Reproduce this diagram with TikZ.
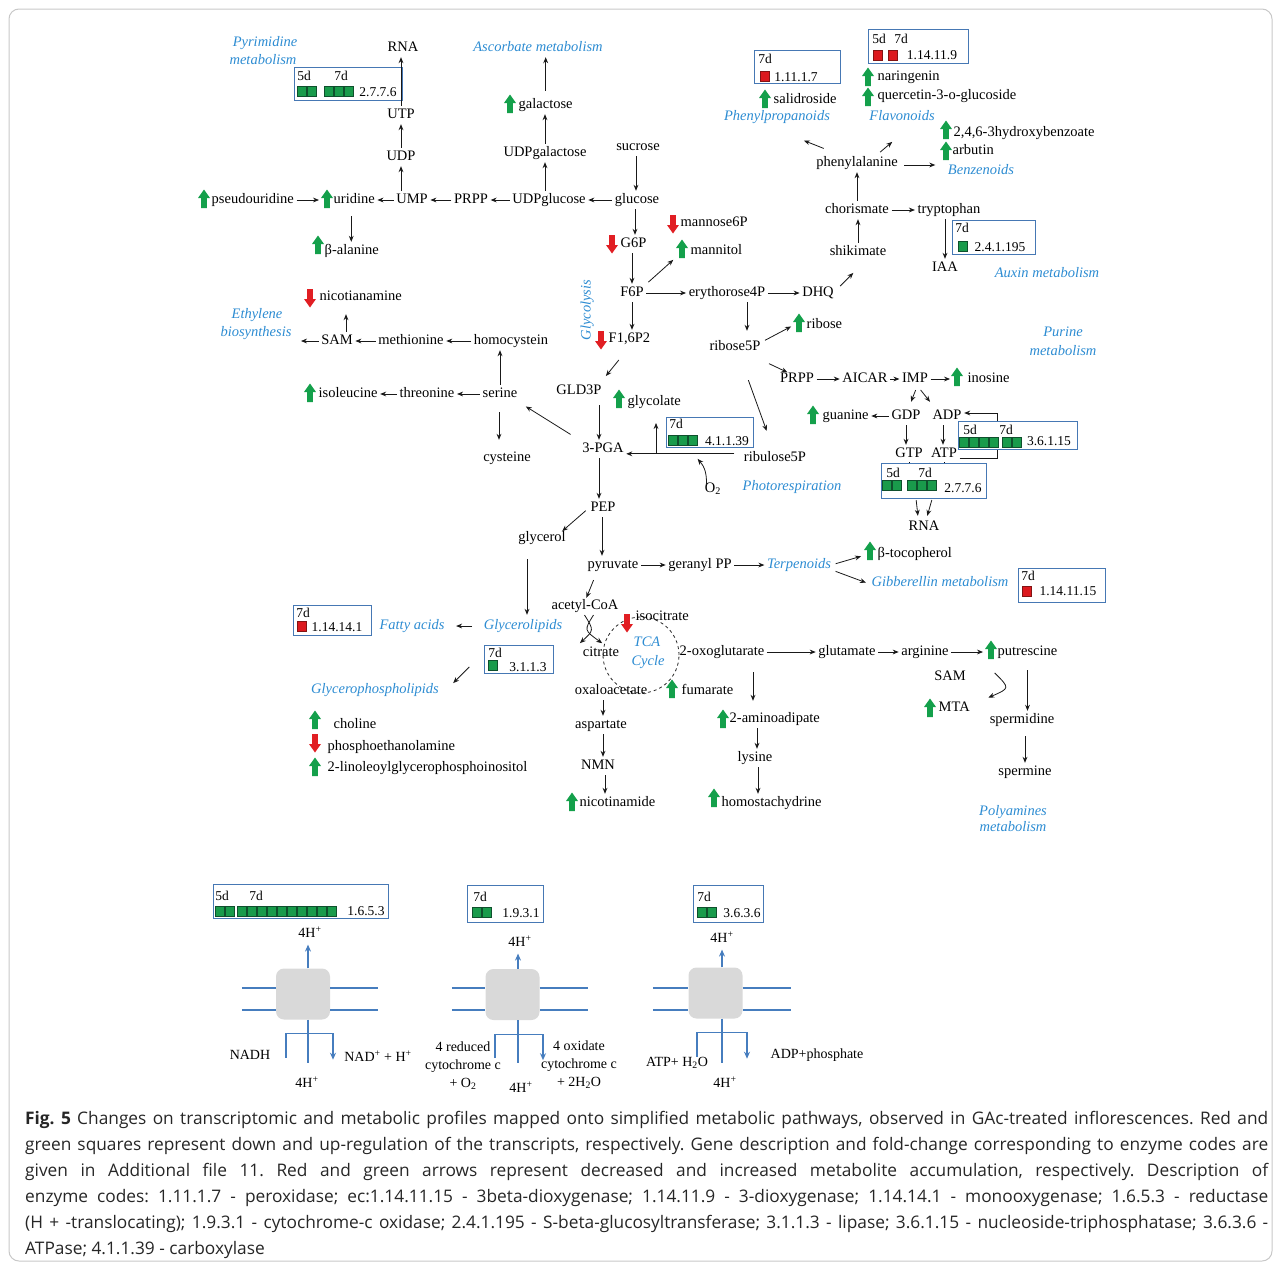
\documentclass[tikz,border=0pt]{standalone}
\usepackage{fontspec}
\setmainfont{Liberation Serif}
\newfontfamily\capfont{Open Sans}
\usetikzlibrary{arrows.meta,calc}
\definecolor{pwblue}{RGB}{45,140,210}
\definecolor{boxblue}{RGB}{70,120,180}
\definecolor{mgreen}{RGB}{20,160,75}
\definecolor{mred}{RGB}{225,30,35}
\definecolor{sqgreen}{RGB}{25,155,75}
\definecolor{sqedge}{RGB}{15,80,45}
\definecolor{sqred}{RGB}{220,25,30}
\definecolor{sqrededge}{RGB}{130,20,20}
\definecolor{memblue}{RGB}{70,125,190}
\definecolor{grayblk}{RGB}{217,217,217}
\definecolor{framegray}{RGB}{200,200,200}
\newcommand\sqrow[5]{\foreach \ii in {1,...,#3}{\filldraw[fill=#4,draw=#5,line width=0.6pt] ({#1+(\ii-1)*10},#2) rectangle ++(9.6,10);}}
\tikzset{
 gup/.pic={\fill[mgreen] (-2.8,9) -- (-2.8,-1) -- (-6,-1) -- (0,-9.5) -- (6,-1) -- (2.8,-1) -- (2.8,9) -- cycle;},
 rdn/.pic={\fill[mred] (-2.8,-9) -- (-2.8,1) -- (-6,1) -- (0,9.5) -- (6,1) -- (2.8,1) -- (2.8,-9) -- cycle;}
}
\begin{document}
\begin{tikzpicture}[x=1pt,y=-1pt,
 met/.style={font=\fontsize{14.5}{16}\selectfont, inner sep=1.5pt, text height=10pt, text depth=3pt, text=black},
 pw/.style={met, font=\fontsize{14.5}{16}\selectfont\itshape, text=pwblue},
 sm/.style={font=\fontsize{13.5}{15}\selectfont, inner sep=0pt},
 arr/.style={draw=black!90, line width=0.8pt, -{Stealth[length=6pt,width=4.8pt]}, shorten >=1pt, shorten <=1pt},
 ebox/.style={draw=boxblue, line width=1.1pt, fill=white, inner sep=0pt, anchor=north west},
 mem/.style={draw=memblue, line width=1.2pt},
 marr/.style={mem, -{Stealth[length=7pt,width=6pt]}},
 blk/.style={fill=grayblk, rounded corners=8pt, minimum width=54pt, minimum height=51pt, inner sep=0pt},
 lt/.style={font=\fontsize{14}{18}\selectfont, inner sep=1pt, align=center}
]
\useasboundingbox (0,0) rectangle (1281,1269);
\draw[framegray, line width=1pt, rounded corners=10pt] (9,9) rectangle (1272,1261);

% ---------------- Pyrimidine
\node[pw] (pyr1) at (265,43) {Pyrimidine};
\node[pw] (pyr2) at (263,61) {metabolism};
\node[met] (rna1) at (403,48) {RNA};
\node[ebox, minimum width=108pt, minimum height=33pt] (bxA) at (294,67) {};
\node[sm] (bxA5) at (304,76) {5d};
\node[sm] (bxA7) at (341,76) {7d};
\sqrow{297}{86}{2}{sqgreen}{sqedge}
\sqrow{324}{86}{3}{sqgreen}{sqedge}
\node[sm] (bxAc) at (378,92) {2.7.7.6};
\node[met] (utp) at (401,115) {UTP};
\node[met] (udp) at (401,157) {UDP};
\draw[arr] (utp.north) -- (utp.north |- rna1.south);
\draw[arr] (udp) -- (utp);
\node[met] (ump) at (412,200) {UMP};
\draw[arr] (udp.south |- ump.north) -- (udp.south);
\pic at (204,199) {gup};
\node[met, anchor=west] (pseudo) at (210,200) {pseudouridine};
\pic at (327,199) {gup};
\node[met, anchor=west] (uridine) at (332,200) {uridine};
\node[met] (prpp1) at (471,200) {PRPP};
\node[met] (udpglc) at (549,200) {UDPglucose};
\node[met] (glucose) at (637,200) {glucose};
\draw[arr] (pseudo.east) -- ($(uridine.west)+(-12,0)$);
\draw[arr] (ump) -- (uridine);
\draw[arr] (prpp1) -- (ump);
\draw[arr] (udpglc) -- (prpp1);
\draw[arr] (glucose) -- (udpglc);
\pic at (318,245) {gup};
\node[met, anchor=west] (balanine) at (323,251) {β-alanine};
\draw[arr, shorten <=8pt] ($(uridine.south)+(-3,0)$) -- ($(uridine.south |- balanine.north)+(-3,0)$);

% ---------------- Ascorbate
\node[pw] (ascorb) at (538,48) {Ascorbate metabolism};
\pic at (510,104) {gup};
\node[met, anchor=west] (galactose) at (517,105) {galactose};
\node[met] (udpgal) at (545,153) {UDPgalactose};
\draw[arr, shorten <=6pt] (galactose.north) -- (galactose.north |- ascorb.south);
\draw[arr] (udpgal.north) -- (udpgal.north |- galactose.south);
\draw[arr] (udpgal.south |- udpglc.north) -- (udpgal.south);
\node[met] (sucrose) at (638,147) {sucrose};
\draw[arr] ($(sucrose.south)+(-2,0)$) -- ($(sucrose.south |- glucose.north)+(-2,0)$);

% ---------------- Glycolysis upper
\pic at (612,244) {rdn};
\node[met, anchor=west] (g6p) at (619,244) {G6P};
\draw[arr] ($(glucose.south)+(-2,0)$) -- ($(glucose.south |- g6p.north)+(-2,0)$);
\pic at (673,224) {rdn};
\node[met, anchor=west] (mannose) at (679,223) {mannose6P};
\pic at (682,249) {gup};
\node[met, anchor=west] (mannitol) at (689,251) {mannitol};
\node[met] (f6p) at (632,293) {F6P};
\draw[arr] (f6p.north |- g6p.south) -- (f6p.north);
\draw[arr, shorten <=4pt] (f6p.north east) -- ($(mannitol.south west)+(-15,0)$);
\node[pw, rotate=90] (glycolysis) at (587,310) {Glycolysis};
\node[met] (ery) at (727,293) {erythorose4P};
\draw[arr] (f6p) -- (ery);
\node[met] (dhq) at (818,293) {DHQ};
\draw[arr] (ery) -- (dhq);
\node[met] (shik) at (858,252) {shikimate};
\draw[arr] ($(dhq.north east)+(4,2)$) -- ($(shik.south)+(-4,12)$);
\node[met] (chor) at (857,210) {chorismate};
\draw[arr] (shik.north) -- (shik.north |- chor.south);
\node[met] (trp) at (949,210) {tryptophan};
\draw[arr] (chor) -- (trp);
\node[met] (iaa) at (945,268) {IAA};
\draw[arr] (iaa.north |- trp.south) -- (iaa.north);
\node[ebox, minimum width=83pt, minimum height=34pt] (bxD) at (952,220) {};
\node[sm] (bxD7) at (962,228) {7d};
\sqrow{958}{241}{1}{sqgreen}{sqedge}
\node[sm] (bxDc) at (1000,247) {2.4.1.195};
\node[pw] (auxin) at (1047,274) {Auxin metabolism};
\node[met] (phe) at (857,163) {phenylalanine};
\draw[arr] (chor.north) -- (chor.north |- phe.south);
\node[pw] (phenylprop) at (777,117) {Phenylpropanoids};
\node[pw] (flavon) at (902,117) {Flavonoids};
\node[pw] (benzen) at (981,171) {Benzenoids};
\draw[arr] ($(phe.north west)+(10,-6)$) -- ($(phenylprop.south)+(26,15)$);
\draw[arr] ($(phe.north east)+(-20,-2)$) -- ($(flavon.south)+(-9,16)$);
\draw[arr] ($(phe.east)+(4,2)$) -- ($(phe.east -| benzen.west)+(-10,2)$);
\node[ebox, minimum width=86pt, minimum height=33pt] (bxE) at (754,50) {};
\node[sm] (bxE7) at (765,59) {7d};
\sqrow{760}{71}{1}{sqred}{sqrededge}
\node[sm] (bxEc) at (796,77) {1.11.1.7};
\pic at (765,99) {gup};
\node[met, anchor=west] (salid) at (772,100) {salidroside};
\node[ebox, minimum width=100pt, minimum height=34pt] (bxF) at (868,29) {};
\node[sm] (bxF5) at (879,39) {5d};
\node[sm] (bxF7) at (901,39) {7d};
\sqrow{873}{50}{1}{sqred}{sqrededge}
\sqrow{888}{50}{1}{sqred}{sqrededge}
\node[sm] (bxFc) at (932,55) {1.14.11.9};
\pic at (868,77) {gup};
\node[met, anchor=west] (naring) at (876,77) {naringenin};
\pic at (868,97) {gup};
\node[met, anchor=west] (querc) at (876,96) {quercetin-3-o-glucoside};
\pic at (946,130) {gup};
\node[met, anchor=west] (hydroxy) at (952,133) {2,4,6-3hydroxybenzoate};
\pic at (946,151) {gup};
\node[met, anchor=west] (arbutin) at (951,151) {arbutin};

% ---------------- amino acids left
\pic at (310,298) {rdn};
\node[met, anchor=west] (nicotian) at (318,297) {nicotianamine};
\node[pw] (ethy1) at (257,315) {Ethylene};
\node[pw] (ethy2) at (256,333) {biosynthesis};
\node[met] (sam1) at (337,341) {SAM};
\node[met] (methio) at (411,341) {methionine};
\node[met] (homocys) at (511,341) {homocystein};
\coordinate (ethyE) at (300,341);
\draw[arr] (sam1) -- (ethyE);
\draw[arr] (methio) -- (sam1);
\draw[arr] (homocys) -- (methio);
\draw[arr, shorten >=9pt] ($(sam1.north)+(9,0)$) -- ($(sam1.north |- nicotian.south)+(9,0)$);
\node[met] (serine) at (500,394) {serine};
\node[met] (threo) at (427,394) {threonine};
\pic at (310,393) {gup};
\node[met, anchor=west] (isoleu) at (317,394) {isoleucine};
\draw[arr] (serine) -- (threo);
\draw[arr] (threo) -- (isoleu);
\draw[arr] (serine.north) -- (serine.north |- homocys.south);
\node[met] (cyst) at (507,458) {cysteine};
\draw[arr, shorten <=10pt, shorten >=10pt] ($(serine.south)+(-1,0)$) -- ($(serine.south |- cyst.north)+(-1,0)$);

% ---------------- glycolysis lower
\node[met] (pga) at (603,449) {3-PGA};
\draw[arr, shorten <=12pt, shorten >=8pt] (pga.north west) -- (serine.south east);
\pic at (601,340) {rdn};
\node[met, anchor=west] (f16) at (607,339) {F1,6P2};
\draw[arr] (f6p.south) -- (f6p.south |- f16.north);
\node[met] (gld3p) at (579,391) {GLD3P};
\draw[arr] ($(f16.south)+(-10,12)$) -- ($(gld3p.north east)+(2,-6)$);
\pic at (619,399) {gup};
\node[met, anchor=west] (glycolate) at (626,402) {glycolate};
\draw[arr, shorten <=6pt] ($(gld3p.south -| pga.north)+(-4,0)$) -- ($(pga.north)+(-4,0)$);

% ---------------- pentose / purine
\node[met] (rib5) at (735,347) {ribose5P};
\draw[arr, shorten >=8pt] ($(ery.south)+(20,0)$) -- ($(ery.south |- rib5.north)+(20,0)$);
\pic at (799,323) {gup};
\node[met, anchor=west] (ribose) at (805,325) {ribose};
\draw[arr] ($(rib5.north east)+(2,2)$) -- ($(ribose.west)+(-13,1)$);
\node[met] (prpp2) at (797,379) {PRPP};
\draw[arr] ($(rib5.south east)+(6,8)$) -- ($(prpp2.north west)+(10,2)$);
\node[met] (aicar) at (865,379) {AICAR};
\node[met] (imp) at (915,379) {IMP};
\pic at (957,377) {gup};
\node[met, anchor=west] (inosine) at (966,379) {inosine};
\draw[arr] (prpp2) -- (aicar);
\draw[arr] (aicar) -- (imp);
\draw[arr] (imp) -- ($(inosine.west)+(-15,0)$);
\node[met] (gdp) at (906,416) {GDP};
\node[met] (adp) at (947,416) {ADP};
\draw[arr, shorten >=0pt] ($(imp.south)+(1,2)$) -- ($(gdp.north)+(5,-6)$);
\draw[arr, shorten >=0pt] ($(imp.south)+(5,2)$) -- ($(adp.north)+(-17,-6)$);
\pic at (813,415) {gup};
\node[met, anchor=west] (guanine) at (821,416) {guanine};
\draw[arr] (gdp) -- (guanine);
\node[met] (gtp) at (909,454) {GTP};
\node[met] (atp) at (944,454) {ATP};
\draw[arr] (gdp.south) -- (gdp.south |- gtp.north);
\draw[arr] ($(adp.south)+(-4,0)$) -- ($(adp.south |- atp.north)+(-4,0)$);
\coordinate (loopx) at (997,413);
\draw[arr] ($(atp.east)+(0,4)$) -| (loopx) -- (loopx -| adp.east);
\node[ebox, minimum width=119pt, minimum height=28pt] (bxH) at (958,421) {};
\node[sm] (bxH5) at (970,430) {5d};
\node[sm] (bxH7) at (1006,430) {7d};
\sqrow{959}{437}{4}{sqgreen}{sqedge}
\sqrow{1002}{437}{2}{sqgreen}{sqedge}
\node[sm] (bxHc) at (1049,441) {3.6.1.15};
\node[ebox, minimum width=105pt, minimum height=35pt] (bxI) at (881,463) {};
\draw[line width=0.75pt] (gtp.south) -- (gtp.south |- bxI.north);
\draw[line width=0.75pt] (atp.south) -- (atp.south |- bxI.north);
\node[sm] (bxI5) at (893,473) {5d};
\node[sm] (bxI7) at (925,473) {7d};
\sqrow{882}{480}{2}{sqgreen}{sqedge}
\sqrow{907}{480}{3}{sqgreen}{sqedge}
\node[sm] (bxIc) at (963,488) {2.7.7.6};
\node[met] (rna2) at (924,527) {RNA};
\draw[arr] ($(bxI.south)+(-18,0)$) -- ($(rna2.north)+(-6,-2)$);
\draw[arr] ($(bxI.south)+(-2,0)$) -- ($(rna2.north)+(3,-2)$);
\node[pw] (pur1) at (1063,333) {Purine};
\node[pw] (pur2) at (1063,352) {metabolism};

% ---------------- photorespiration
\node[met] (rbl) at (775,458) {ribulose5P};
\draw[arr] ($(rib5.south)+(13,24)$) -- ($(rbl.north)+(-8,-18)$);
\coordinate (rub) at ($(rbl.north west)+(-7,4)$);
\draw[arr] (rub) -- (rub -| pga.east);
\node[ebox, minimum width=87pt, minimum height=30pt] (bxG) at (666,417) {};
\draw[arr, shorten <=0pt] ($(rub -| bxG.west)+(-10,0)$) -- ($(bxG.north west)+(-10,5)$);
\node[sm] (bxG7) at (676,424) {7d};
\sqrow{668}{435}{3}{sqgreen}{sqedge}
\node[sm] (bxGc) at (727,441) {4.1.1.39};
\node[met] (o2) at (713,489) {O\textsubscript{2}};
\coordinate (o2s) at ($(o2.north west)+(3,5)$);
\coordinate (o2e) at ($(bxG.south west)+(31,10)$);
\draw[arr] (o2s) .. controls ($(o2s)+(1,-16)$) and ($(o2e)+(5,6)$) .. (o2e);
\node[pw] (photo) at (792,487) {Photorespiration};

% ---------------- lower metabolism
\node[met] (pep) at (603,508) {PEP};
\draw[arr] ($(pga.south)+(-4,0)$) -- ($(pga.south |- pep.north)+(-4,0)$);
\node[met] (glycerol) at (542,538) {glycerol};
\draw[arr, shorten <=4pt] (pep.west) -- ($(glycerol.north east)+(-6,2)$);
\node[met] (pyruvate) at (613,565) {pyruvate};
\draw[arr] ($(pep.south)+(-1,0)$) -- ($(pep.south |- pyruvate.north)+(-1,0)$);
\node[met] (geranyl) at (700,565) {geranyl PP};
\node[pw] (terp) at (799,565) {Terpenoids};
\draw[arr] (pyruvate) -- (geranyl);
\draw[arr] (geranyl) -- (terp);
\pic at (870,551) {gup};
\node[met, anchor=west] (btoco) at (876,554) {β-tocopherol};
\draw[arr] ($(terp.east)+(2,-1)$) -- ($(btoco.west)+(-14,2)$);
\node[pw] (gibb) at (940,583) {Gibberellin metabolism};
\draw[arr] ($(terp.east)+(2,6)$) -- ($(gibb.west)+(-3,0)$);
\node[ebox, minimum width=87pt, minimum height=34pt] (bxJ) at (1018,568) {};
\node[sm] (bxJ7) at (1028,576) {7d};
\sqrow{1022}{586}{1}{sqred}{sqrededge}
\node[sm] (bxJc) at (1068,591) {1.14.11.15};

\node[pw] (glyl) at (523,626) {Glycerolipids};
\draw[arr] ($(glycerol.south -| glyl.north)+(4,12)$) -- ($(glyl.north)+(4,-2)$);
\node[pw] (fatty) at (412,626) {Fatty acids};
\draw[arr, shorten <=10pt, shorten >=10pt] (glyl) -- (fatty);
\node[ebox, minimum width=78pt, minimum height=30pt] (bxK) at (293,605) {};
\node[sm] (bxK7) at (303,613) {7d};
\sqrow{297}{621}{1}{sqred}{sqrededge}
\node[sm] (bxKc) at (337,627) {1.14.14.1};
\node[ebox, minimum width=69pt, minimum height=28pt] (bxL) at (484,645) {};
\node[sm] (bxL7) at (495,653) {7d};
\sqrow{488}{660}{1}{sqgreen}{sqedge}
\node[sm] (bxLc) at (528,667) {3.1.1.3};
\node[pw] (glyphos) at (375,690) {Glycerophospholipids};
\draw[arr] ($(glyl.south)+(-53,32)$) -- ($(glyphos.north east)+(12,2)$);
\pic at (315,720) {gup};
\node[met, anchor=west] (choline) at (332,725) {choline};
\pic at (315,743) {rdn};
\node[met, anchor=west] (phosphoe) at (326,747) {phosphoethanolamine};
\pic at (315,767) {gup};
\node[met, anchor=west] (linole) at (326,768) {2-linoleoylglycerophosphoinositol};

% ---------------- TCA
\node[met] (acetyl) at (585,606) {acetyl-CoA};
\draw[arr] ($(pyruvate.south west)+(8,6)$) -- ($(acetyl.north)+(1,1)$);
\node[met] (citrate) at (601,653) {citrate};
\node[draw=black!85, dashed, line width=0.8pt, circle, minimum size=76pt, inner sep=0pt] (tca) at (641,655) {};
\draw[arr] ($(acetyl.south)+(-1,0)$) .. controls ($(acetyl.south)+(9,16)$) .. ($(citrate.north west)+(-2,-1)$);
\draw[arr] ($(acetyl.south)+(9,0)$) .. controls ($(acetyl.south)+(-1,16)$) .. ($(citrate.north)+(2,-1)$);
\node[pw] (tca1) at (647,643) {TCA};
\node[pw] (tca2) at (648,662) {Cycle};
\pic at (627,623) {rdn};
\node[met, anchor=west] (isocit) at (634,617) {isocitrate};
\node[met] (oxo) at (722,652) {2-oxoglutarate};
\node[met] (glutamate) at (847,652) {glutamate};
\node[met] (arginine) at (925,652) {arginine};
\pic at (991,650) {gup};
\node[met, anchor=west] (putr) at (996,652) {putrescine};
\draw[arr] (oxo) -- (glutamate);
\draw[arr] (glutamate) -- (arginine);
\draw[arr] (arginine) -- ($(putr.west)+(-12,0)$);
\node[met] (sam2) at (950,677) {SAM};
\pic at (930,708) {gup};
\node[met, anchor=west] (mta) at (937,708) {MTA};
\draw[arr] ($(putr.south west)+(-2,12)$) .. controls ($(putr.south west)+(14,28)$) .. ($(mta.east)+(16,-10)$);
\node[met] (spermid) at (1022,720) {spermidine};
\draw[arr, shorten <=10pt] (putr.south) -- (putr.south |- spermid.north);
\node[met] (spermine) at (1025,772) {spermine};
\draw[arr, shorten <=8pt] ($(spermid.south)+(3,0)$) -- ($(spermid.south |- spermine.north)+(3,0)$);
\node[pw] (poly1) at (1013,812) {Polyamines};
\node[pw] (poly2) at (1013,828) {metabolism};
\pic at (672,689) {gup};
\node[met, anchor=west] (fumarate) at (680,691) {fumarate};
\node[met] (oxalo) at (611,691) {oxaloacetate};
\node[met] (aspart) at (601,725) {aspartate};
\draw[arr] ($(oxalo.south)+(-8,0)$) -- ($(oxalo.south |- aspart.north)+(-8,0)$);
\node[met] (nmn) at (598,766) {NMN};
\draw[arr] ($(aspart.south)+(2,0)$) -- ($(aspart.south |- nmn.north)+(2,0)$);
\pic at (572,802) {gup};
\node[met, anchor=west] (nicotin) at (578,803) {nicotinamide};
\draw[arr] ($(nmn.south)+(7,0)$) -- ($(nmn.south |- nicotin.north)+(7,0)$);
\pic at (723,719) {gup};
\node[met, anchor=west] (amino) at (728,719) {2-aminoadipate};
\draw[arr, shorten <=12pt, shorten >=10pt] ($(oxo.south)+(31,0)$) -- ($(oxo.south |- amino.north)+(31,0)$);
\node[met] (lysine) at (755,758) {lysine};
\draw[arr] ($(lysine.north |- amino.south)+(2,0)$) -- ($(lysine.north)+(2,0)$);
\pic at (714,798) {gup};
\node[met, anchor=west] (homost) at (720,803) {homostachydrine};
\draw[arr] ($(lysine.south)+(3,0)$) -- ($(lysine.south |- homost.north)+(3,0)$);

% ---------------- complex 1
\node[ebox, minimum width=175pt, minimum height=34pt] (bxM) at (213,884) {};
\node[sm] (bxM5) at (222,896) {5d};
\node[sm] (bxM7) at (256,896) {7d};
\sqrow{215}{906}{2}{sqgreen}{sqedge}
\sqrow{237}{906}{10}{sqgreen}{sqedge}
\node[sm] (bxMc) at (366,911) {1.6.5.3};
\node[lt] (h1top) at (310,932) {4H\textsuperscript{+}};
\node[blk] (blk1) at (303,994) {};
\draw[marr] ($(blk1.north)+(5,0)$) -- ($(blk1.north |- h1top.south)+(5,6)$);
\draw[mem] ($(blk1.west)+(-34,-6)$) -- ($(blk1.west)+(0,-6)$);
\draw[mem] ($(blk1.west)+(-34,16)$) -- ($(blk1.west)+(0,16)$);
\draw[mem] ($(blk1.east)+(0,-6)$) -- ($(blk1.east)+(48,-6)$);
\draw[mem] ($(blk1.east)+(0,16)$) -- ($(blk1.east)+(48,16)$);
\coordinate (v1) at ($(blk1.south)+(5,43)$);
\draw[mem] ($(blk1.south)+(5,0)$) -- (v1);
\draw[marr] ($(blk1.south)+(-17,38)$) |- ($(blk1.south)+(30,14)$) -- ($(blk1.south)+(30,40)$);
\node[lt] (nadh) at (250,1055) {NADH};
\node[lt] (nad) at (378,1056) {NAD\textsuperscript{+} + H\textsuperscript{+}};
\node[lt] (h1bot) at (307,1082) {4H\textsuperscript{+}};

% ---------------- complex 2
\node[ebox, minimum width=76pt, minimum height=37pt] (bxN) at (467,885) {};
\node[sm] (bxN7) at (480,897) {7d};
\sqrow{472}{907}{2}{sqgreen}{sqedge}
\node[sm] (bxNc) at (521,913) {1.9.3.1};
\node[lt] (h2top) at (520,941) {4H\textsuperscript{+}};
\node[blk] (blk2) at (512.5,994.5) {};
\draw[marr] ($(blk2.north)+(5.5,0)$) -- ($(blk2.north |- h2top.south)+(5.5,6)$);
\draw[mem] ($(blk2.west)+(-33.5,-6.5)$) -- ($(blk2.west)+(0,-6.5)$);
\draw[mem] ($(blk2.west)+(-33.5,15.5)$) -- ($(blk2.west)+(0,15.5)$);
\draw[mem] ($(blk2.east)+(0,-6.5)$) -- ($(blk2.east)+(48.5,-6.5)$);
\draw[mem] ($(blk2.east)+(0,15.5)$) -- ($(blk2.east)+(48.5,15.5)$);
\coordinate (v2) at ($(blk2.south)+(5.5,43)$);
\draw[mem] ($(blk2.south)+(5.5,0)$) -- (v2);
\draw[marr] ($(blk2.south)+(-17.5,38)$) |- ($(blk2.south)+(30.5,14)$) -- ($(blk2.south)+(30.5,40)$);
\node[lt] (red2) at (463,1066) {4 reduced\\cytochrome c\\+ O\textsubscript{2}};
\node[lt] (ox2) at (579,1065) {4 oxidate\\cytochrome c\\+ 2H\textsubscript{2}O};
\node[lt] (h2bot) at (521,1087) {4H\textsuperscript{+}};

% ---------------- complex 3
\node[ebox, minimum width=70pt, minimum height=37pt] (bxO) at (693,885) {};
\node[sm] (bxO7) at (704,897) {7d};
\sqrow{697}{907}{2}{sqgreen}{sqedge}
\node[sm] (bxOc) at (742,913) {3.6.3.6};
\node[lt] (h3top) at (722,937) {4H\textsuperscript{+}};
\node[blk] (blk3) at (715.5,993) {};
\draw[marr] ($(blk3.north)+(6.5,0)$) -- ($(blk3.north |- h3top.south)+(6.5,6)$);
\draw[mem] ($(blk3.west)+(-35.5,-5)$) -- ($(blk3.west)+(0,-5)$);
\draw[mem] ($(blk3.west)+(-35.5,17)$) -- ($(blk3.west)+(0,17)$);
\draw[mem] ($(blk3.east)+(0,-5)$) -- ($(blk3.east)+(48.5,-5)$);
\draw[mem] ($(blk3.east)+(0,17)$) -- ($(blk3.east)+(48.5,17)$);
\coordinate (v3) at ($(blk3.south)+(6.5,44)$);
\draw[mem] ($(blk3.south)+(6.5,0)$) -- (v3);
\draw[marr] ($(blk3.south)+(-18.5,38)$) |- ($(blk3.south)+(31.5,14)$) -- ($(blk3.south)+(31.5,40)$);
\node[lt] (atp2) at (677,1063) {ATP+ H\textsubscript{2}O};
\node[lt] (adp2) at (817,1055) {ADP+phosphate};
\node[lt] (h3bot) at (725,1082) {4H\textsuperscript{+}};

% ---------------- caption
\node[anchor=north west, inner sep=0pt, text width=1243pt, align=justify, font=\capfont\fontsize{17.3}{26}\selectfont, text=black!85] (caption) at (25,1111) {\frenchspacing\hyphenpenalty=10000\exhyphenpenalty=10000\tolerance=10000
\textbf{Fig.~5} Changes on transcriptomic and metabolic profiles mapped onto simplified metabolic pathways, observed in GAc-treated inflorescences. Red and\linebreak
green squares represent down and up-regulation of the transcripts, respectively. Gene description and fold-change corresponding to enzyme codes are\linebreak
given in Additional file 11. Red and green arrows represent decreased and increased metabolite accumulation, respectively. Description of\linebreak
enzyme codes: 1.11.1.7 - peroxidase; ec:1.14.11.15 - 3beta-dioxygenase; 1.14.11.9 - 3-dioxygenase; 1.14.14.1 - monooxygenase; 1.6.5.3 - reductase\linebreak
(H + -translocating); 1.9.3.1 - cytochrome-c oxidase; 2.4.1.195 - S-beta-glucosyltransferase; 3.1.1.3 - lipase; 3.6.1.15 - nucleoside-triphosphatase; 3.6.3.6 -\linebreak
ATPase; 4.1.1.39 - carboxylase};
\end{tikzpicture}
\end{document}
